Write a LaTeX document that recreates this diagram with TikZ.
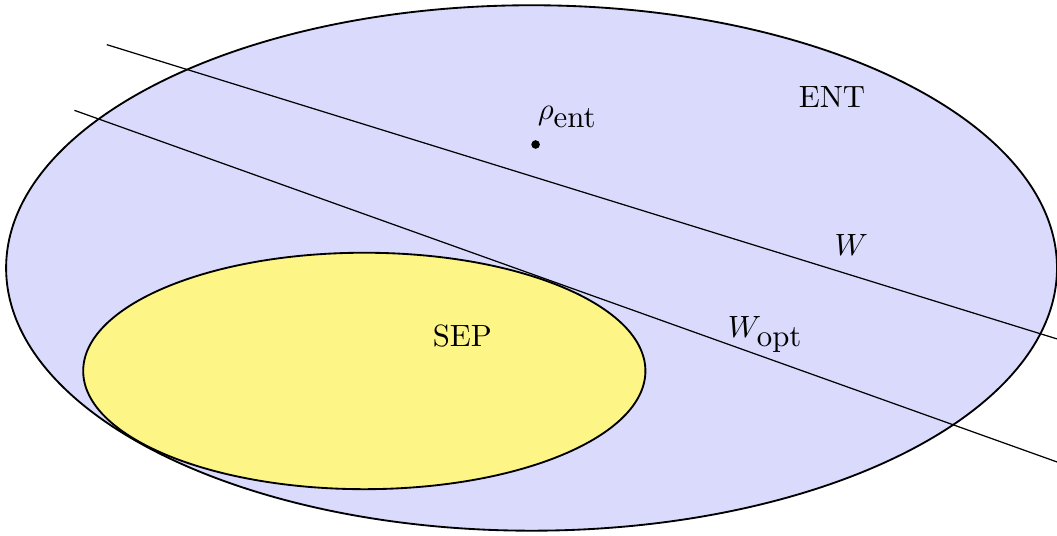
\documentclass[tikz,border=0pt]{standalone}
\definecolor{entfill}{RGB}{218,218,252}
\definecolor{sepfill}{RGB}{254,245,135}
\begin{document}
\begin{tikzpicture}
    \useasboundingbox (-6.07,-3.06) rectangle (6.0,3.06);
    \draw[fill=entfill, draw=black, semithick] (0,0) ellipse (6.0 and 3.0);
    \draw[fill=sepfill, draw=black, semithick] (-1.91,-1.176) ellipse (3.21 and 1.35);
    \coordinate (wa) at (-4.85, 2.55);
    \coordinate (wb) at (6.0, -0.81);
    \coordinate (oa) at (-5.22, 1.80);
    \coordinate (ob) at (6.0, -2.215);
    \draw (wa) -- (wb);
    \draw (oa) -- (ob);
    \fill (0.046, 1.41) circle (1.4pt) coordinate (rho);
    \node (rholbl) at (0.41, 1.72) {$\rho_{\mbox{ent}}$};
    \node (ent) at (3.43, 1.95) {ENT};
    \node (wlbl) at (3.65, 0.26) {$W$};
    \node (woptlbl) at (2.67, -0.76) {$W_{\mbox{opt}}$};
    \node (sep) at (-0.79, -0.78) {SEP};
\end{tikzpicture}
\end{document}
